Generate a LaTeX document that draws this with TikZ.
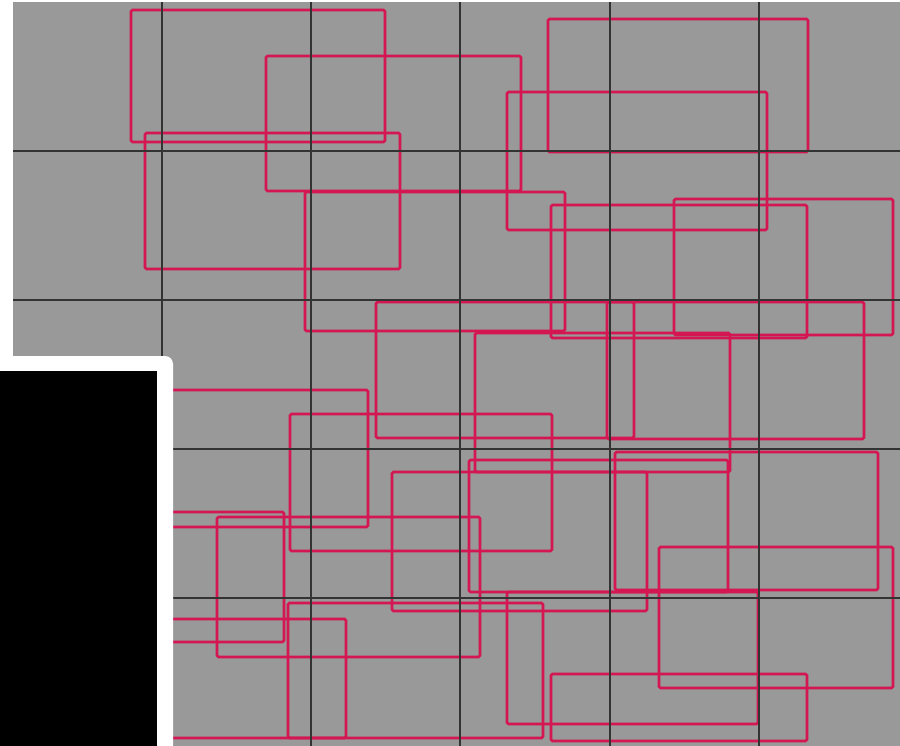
\documentclass[tikz,border=0pt]{standalone}
\begin{document}
\begin{tikzpicture}[x=1pt,y=-1pt,
  gridline/.style={draw=black!80,line width=1.2pt},
  redbox/.style={draw=boxred,line width=2.6pt,rounded corners=1.5pt}]
\definecolor{boxred}{RGB}{212,22,82}
\definecolor{bggrey}{RGB}{153,153,153}
\useasboundingbox (0,0) rectangle (900,745);
\clip (0,0) rectangle (900,745);
\fill[white] (0,0) rectangle (900,745);
\fill[bggrey] (13,2) rectangle (905,750);
% red rectangles
\foreach \xa/\ya/\xb/\yb in {
  131/10/385/142, 266/56/521/191, 145/133/400/269, 305/192/565/331,
  507/92/767/230, 548/19/808/152, 551/205/807/338, 674/199/893/335,
  376/302/634/438, 607/302/864/439, 475/333/730/472, 100/390/368/527,
  290/414/552/551, 392/472/647/611, 469/460/728/592, 615/452/878/590,
  659/547/893/688, 507/592/758/724, 551/674/807/741, 217/517/480/657,
  100/512/284/642, 100/619/346/738, 288/603/543/738}
  \draw[redbox] (\xa,\ya) rectangle (\xb,\yb);
% grid (on top of the rectangles)
\foreach \gx in {162,311,460,610,759} \draw[gridline] (\gx,2) -- (\gx,750);
\foreach \gy in {151,300,449,598} \draw[gridline] (13,\gy) -- (905,\gy);
% white framed black panel
\fill[white,rounded corners=8pt] (-30,356) -- (173,356) -- (173,780) -- (-30,780) -- cycle;
\fill[black] (-30,371) rectangle (157,780);
\end{tikzpicture}
\end{document}
